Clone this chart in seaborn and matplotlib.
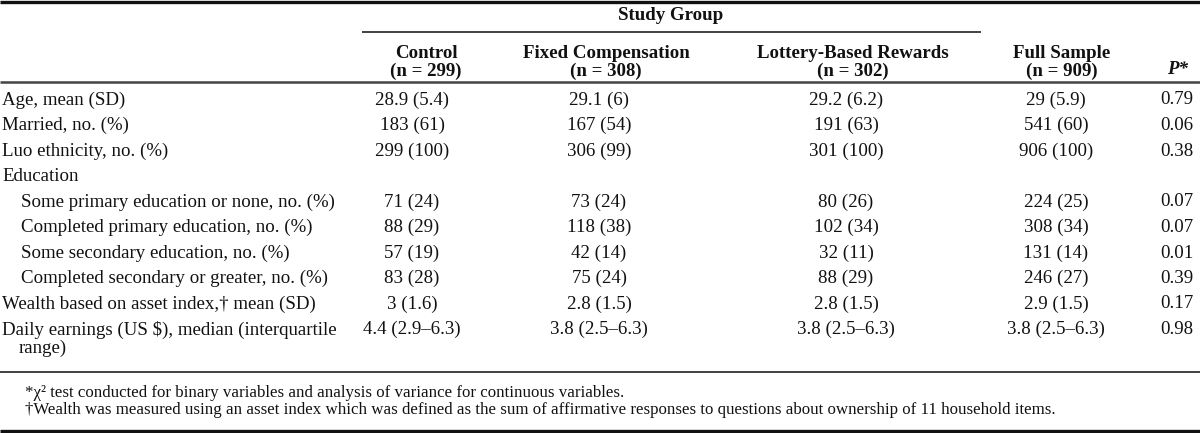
import matplotlib
matplotlib.use("Agg")
import matplotlib.pyplot as plt
import seaborn as sns

# ---------------- data ----------------
row_labels = [
    "Age, mean (SD)",
    "Married, no. (%)",
    "Luo ethnicity, no. (%)",
    "Education",
    "Some primary education or none, no. (%)",
    "Completed primary education, no. (%)",
    "Some secondary education, no. (%)",
    "Completed secondary or greater, no. (%)",
    "Wealth based on asset index,\u2020 mean (SD)",
    "Daily earnings (US $), median (interquartile\nrange)",
]
row_indent = [0, 0, 0, 0, 1, 1, 1, 1, 0, 0]

control = ["28.9 (5.4)", "183 (61)", "299 (100)", "", "71 (24)", "88 (29)",
           "57 (19)", "83 (28)", "3 (1.6)", "4.4 (2.9\u20136.3)"]
fixed = ["29.1 (6)", "167 (54)", "306 (99)", "", "73 (24)", "118 (38)",
         "42 (14)", "75 (24)", "2.8 (1.5)", "3.8 (2.5\u20136.3)"]
lottery = ["29.2 (6.2)", "191 (63)", "301 (100)", "", "80 (26)", "102 (34)",
           "32 (11)", "88 (29)", "2.8 (1.5)", "3.8 (2.5\u20136.3)"]
full = ["29 (5.9)", "541 (60)", "906 (100)", "", "224 (25)", "308 (34)",
        "131 (14)", "246 (27)", "2.9 (1.5)", "3.8 (2.5\u20136.3)"]
pvals = ["0.79", "0.06", "0.38", "", "0.07", "0.07", "0.01", "0.39", "0.17", "0.98"]

group_title = "Study Group"
col_headers = ["Control\n(n = 299)", "Fixed Compensation\n(n = 308)",
               "Lottery-Based Rewards\n(n = 302)", "Full Sample\n(n = 909)"]
footnotes = [
    "*\u03c7\u00b2 test conducted for binary variables and analysis of variance for continuous variables.",
    "\u2020Wealth was measured using an asset index which was defined as the sum of affirmative responses to questions about ownership of 11 household items.",
]

# ---------------- style ----------------
sns.set_theme(style="white")
plt.rcParams["font.family"] = ["Liberation Serif", "DejaVu Serif"]

W, H = 1200, 433
fig = plt.figure(figsize=(12, 4.33), dpi=100)
ax = fig.add_axes([0, 0, 1, 1])
ax.set_xlim(0, W)
ax.set_ylim(H, 0)
ax.axis("off")

FS = 13.6
FS_FOOT = 12.2
ink = "#111111"

col_x = [412, 599, 846, 1056]
head_x = [426, 606, 853, 1062]
p_x = 1160
p_head_x = 1178

# rules
ax.plot([0, W], [1.5, 1.5], color=ink, lw=2.4, solid_capstyle="butt")
ax.plot([362, 981], [32, 32], color="#333333", lw=1.3, solid_capstyle="butt")
ax.plot([0, W], [81.5, 81.5], color="#444444", lw=1.8, solid_capstyle="butt")
ax.plot([0, W], [371.5, 371.5], color="#333333", lw=1.3, solid_capstyle="butt")
ax.plot([0, W], [431, 431], color=ink, lw=2.4, solid_capstyle="butt")

# headers
ax.text(671, 16, group_title, ha="center", va="center", fontsize=FS,
        fontweight="bold", color=ink)
for hx, h in zip(head_x, col_headers):
    ax.text(hx, 62.5, h, ha="center", va="center", fontsize=FS, fontweight="bold",
            color=ink, linespacing=1.05)
ax.text(p_head_x, 70, "P*", ha="center", va="center", fontsize=FS,
        fontweight="bold", style="italic", color=ink)

# body
y0, dy = 100, 25.5
for i, lab in enumerate(row_labels):
    y = y0 + i * dy
    lines = lab.split("\n")
    lx = 2 + 19 * row_indent[i]
    ax.text(lx, y, lines[0], ha="left", va="center", fontsize=FS, color=ink,
            parse_math=False)
    for k, extra in enumerate(lines[1:]):
        ax.text(lx + 17, y + 19 * (k + 1), extra, ha="left", va="center",
                fontsize=FS, color=ink, parse_math=False)
    for cx, vals in zip(col_x, [control, fixed, lottery, full]):
        ax.text(cx, y, vals[i], ha="center", va="center", fontsize=FS, color=ink)
    ax.text(p_x, y, pvals[i], ha="left", va="center", fontsize=FS, color=ink)

# footnotes
for j, fn in enumerate(footnotes):
    ax.text(25, 393 + 17.5 * j, fn, ha="left", va="center", fontsize=FS_FOOT,
            color=ink)

fig.savefig("out.png", dpi=100, facecolor="white")
